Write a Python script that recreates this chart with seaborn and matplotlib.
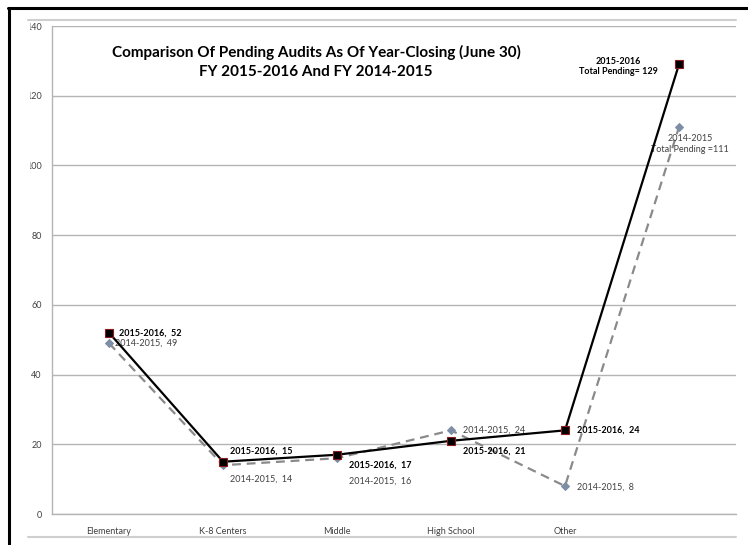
import pandas as pd
import matplotlib.pyplot as plt
import seaborn as sns
from matplotlib.lines import Line2D
from matplotlib.transforms import Bbox, TransformedBbox

# data
categories = ['Elementary', 'K-8 Centers', 'Middle', 'High School', 'Other', '']
fy_1516 = [52, 15, 17, 21, 24, 129]
fy_1415 = [49, 14, 16, 24, 8, 111]
y_ticks = [0, 20, 40, 60, 80, 100, 120, 140]

df = pd.DataFrame({'Category': categories, '2015-2016': fy_1516, '2014-2015': fy_1415})

sns.set_style('white')
plt.rcParams['font.family'] = ['Lato', 'DejaVu Sans']

W, H = 748, 545
fig = plt.figure(figsize=(W / 100, H / 100), dpi=100)
ax = fig.add_axes([52 / W, 31 / H, 684 / W, 488 / H])

grid_col = '#b4b4b4'
text_col = '#404040'

sns.lineplot(data=df, x='Category', y='2014-2015', ax=ax, sort=False, color='#8a8a8a',
             linewidth=1.6, linestyle=(0, (4, 2.6)), marker='D', markersize=4.2,
             markerfacecolor='#7d8ea6', markeredgecolor='#7d8ea6', zorder=3)
sns.lineplot(data=df, x='Category', y='2015-2016', ax=ax, sort=False, color='black',
             linewidth=1.6, marker='s', markersize=5.2,
             markerfacecolor='black', markeredgecolor='#8b1a1a', markeredgewidth=0.8, zorder=4)

ax.set_xlim(-0.5, len(categories) - 0.5)
ax.set_ylim(0, 140)
ax.set_yticks(y_ticks)
ax.set_yticklabels([str(t) for t in y_ticks], fontsize=6.5, color=text_col)
ax.set_xticks(range(len(categories)))
ax.set_xticklabels(categories, fontsize=6.5, color=text_col)
ax.set_xticks([i + 0.5 for i in range(-1, len(categories))], minor=True)
ax.tick_params(axis='x', which='major', length=0, pad=9)
ax.tick_params(axis='x', which='minor', length=3, color=grid_col, direction='out')
ax.tick_params(axis='y', length=4.3, color=grid_col, pad=3, direction='out')
ax.set_xlabel('')
ax.set_ylabel('')
ax.yaxis.grid(True, color=grid_col, linewidth=1)
ax.set_axisbelow(True)
for s in ['top', 'right']:
    ax.spines[s].set_visible(False)
for s in ['left', 'bottom']:
    ax.spines[s].set_color(grid_col)
    ax.spines[s].set_linewidth(1)

# labels cut off on the left edge, as in the screenshot
clip = TransformedBbox(Bbox([[29.8 / W, 0], [1, 1]]), fig.transFigure)
for lbl in ax.get_yticklabels():
    lbl.set_clip_on(True)
    lbl.set_clip_box(clip)

# point labels (pixel offsets)
offs_1516 = [(10, 0), (7, 11), (12, -10), (12, -10), (12, 0)]
offs_1415 = [(6, 0), (7, -14), (12, -23), (12, 0), (12, -1)]
for i in range(len(categories) - 1):
    ax.annotate(f'2015-2016,  {fy_1516[i]}', (i, fy_1516[i]), xytext=offs_1516[i],
                textcoords='offset pixels', ha='left', va='center',
                fontsize=6.5, fontweight='bold', color='black')
    ax.annotate(f'2014-2015,  {fy_1415[i]}', (i, fy_1415[i]), xytext=offs_1415[i],
                textcoords='offset pixels', ha='left', va='center',
                fontsize=6.5, color=text_col)

n = len(categories) - 1
ax.annotate(f'2015-2016\nTotal Pending= {fy_1516[n]}', (n, fy_1516[n]), xytext=(-61, -2),
            textcoords='offset pixels', ha='center', va='center', multialignment='center',
            fontsize=6.5, fontweight='bold', color='black')
ax.annotate(f'2014-2015\nTotal Pending ={fy_1415[n]}', (n, fy_1415[n]), xytext=(11, -17),
            textcoords='offset pixels', ha='center', va='center', multialignment='center',
            fontsize=6.5, color=text_col)

fig.text(316 / W, 1 - 62 / H,
         'Comparison Of Pending Audits As Of Year-Closing (June 30)\nFY 2015-2016 And FY 2014-2015',
         ha='center', va='center', multialignment='center', fontsize=11,
         fontweight='bold', color='black', linespacing=1.4)

# screenshot frame
fig.add_artist(Line2D([9 / W, 9 / W], [0, 1 - 8 / H], color='black', linewidth=2.2))
fig.add_artist(Line2D([8 / W, 1], [1 - 8 / H, 1 - 8 / H], color='black', linewidth=2.2))
fig.add_artist(Line2D([28 / W, 736 / W], [1 - 20 / H, 1 - 20 / H], color='#cfcfcf', linewidth=1.5))
fig.add_artist(Line2D([28 / W, 736 / W], [1 - 537 / H, 1 - 537 / H], color='#cfcfcf', linewidth=1.5))

fig.savefig('out.png', dpi=100, facecolor='white')
